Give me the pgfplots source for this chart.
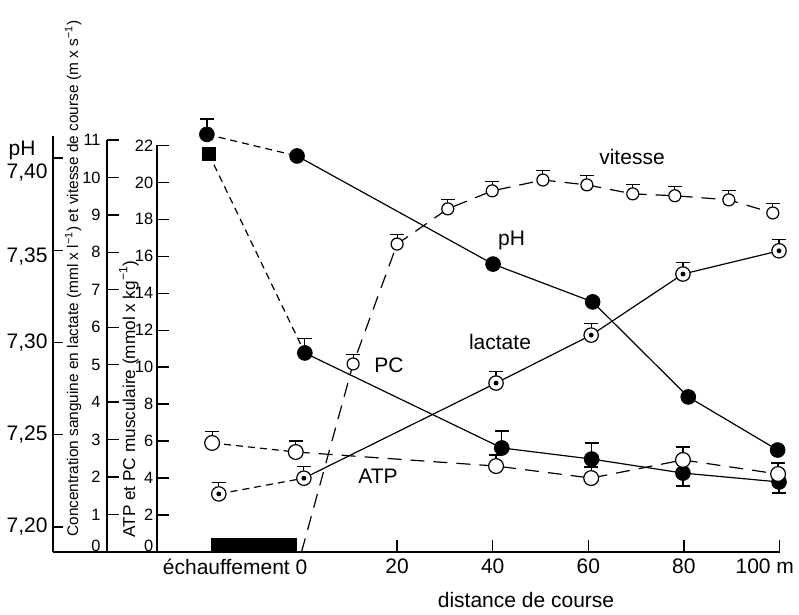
\documentclass[border=0pt]{standalone}
\usepackage{fontspec}
\setmainfont{Liberation Sans}
\usepackage{pgfplots}
\pgfplotsset{compat=1.18}

\pgfplotsset{
  common/.style={
    clip=false, x=2.39pt, xmax=100, ymin=0,
    axis line style={line width=0.7pt, black},
    major tick style={line width=0.7pt, black},
    tick align=inside,
    axis x line*=bottom, axis y line*=left,
    /pgf/number format/assume math mode=true,
  },
  errs/.style={draw=none, mark=none, forget plot,
    error bars/.cd, y dir=both, y explicit,
    error bar style={draw=black, solid, line width=0.6pt},
    error mark options={rotate=90, mark size=3.5pt, line width=0.6pt, black, solid}},
  sd/.style={black, line width=0.6pt, dash pattern=on 3.5pt off 2.5pt, mark=none},
  ld/.style={black, line width=0.6pt, dash pattern=on 7pt off 4.5pt, mark=none},
  sl/.style={black, line width=0.6pt, mark=none},
  fullc/.style={only marks, mark=*, mark size=3.7pt, mark options={solid, fill=black, draw=black}},
  openc/.style={only marks, mark=*, mark size=#1, mark options={solid, fill=white, draw=black, line width=0.6pt}},
}
\tikzset{lab/.style={font=\fontsize{10.5}{12}\selectfont, inner sep=0pt}}

\begin{document}
\begin{tikzpicture}
\path[use as bounding box] (0pt,-31.5pt) rectangle (399.5pt,276pt);

% pH
\begin{axis}[common, at={(26.5pt,0pt)}, anchor=south west,
  xmin=-52, y=922.5pt, ymin=7.18645, ymax=7.4119,
  xtick=\empty, ytick={7.2,7.25,7.3,7.35,7.4},
  yticklabels={{7,20},{7,25},{7,30},{\raisebox{-6.25pt}[0pt][0pt]{7,35}},{\raisebox{-10.25pt}[0pt][0pt]{7,40}}},
  major tick length=5pt,
  yticklabel style={font=\fontsize{10.5}{12}\selectfont, inner sep=2.5pt}]
\addplot[errs] coordinates {(-19.8,7.4128) += (0,0.0083)};
\addplot[sd] coordinates {(-19.8,7.4128) (-0.94,7.4011)};
\addplot[sl] coordinates {(-0.94,7.4011) (40.06,7.3425) (60.9,7.3220) (80.9,7.2705) (99.6,7.2417)};
\addplot[fullc] coordinates {(-19.8,7.4128) (-0.94,7.4011) (40.06,7.3425) (60.9,7.3220) (80.9,7.2705) (99.6,7.2417)};
\end{axis}

% lactate et vitesse
\begin{axis}[common, at={(53.5pt,0pt)}, anchor=south west,
  axis x line*=none,
  xmin=-40.69, y=18.73pt, ymin=0, ymax=11, ytick={0,1,...,11}, xtick=\empty,
  yticklabels={\raisebox{0pt}[0pt][0pt]{0},1,2,3,4,5,6,7,8,9,10,11},
  major tick length=5.8pt,
  yticklabel style={font=\fontsize{8.2}{10}\selectfont, inner sep=3pt}]
\addplot[fill=black, draw=none, forget plot] coordinates {(-19,0) (-1,0) (-1,0.37) (-19,0.37)} -- cycle;
% vitesse
\addplot[errs] coordinates {
  (10.8,5.02) += (0,0.25) (20,8.22) += (0,0.25) (30.6,9.16) += (0,0.25)
  (39.9,9.64) += (0,0.25) (50.5,9.93) += (0,0.25) (59.7,9.80) += (0,0.25)
  (69.3,9.56) += (0,0.25) (78.1,9.51) += (0,0.25) (89.4,9.40) += (0,0.25)
  (98.6,9.05) += (0,0.25)};
\addplot[ld] coordinates {(0,0) (10.8,5.02) (20,8.22) (30.6,9.16) (39.9,9.64) (50.5,9.93) (59.7,9.80) (69.3,9.56) (78.1,9.51) (89.4,9.40) (98.6,9.05)};
\addplot[openc=3pt] coordinates {(10.8,5.02) (20,8.22) (30.6,9.16) (39.9,9.64) (50.5,9.93) (59.7,9.80) (69.3,9.56) (78.1,9.51) (89.4,9.40) (98.6,9.05)};
% lactate
\addplot[errs] coordinates {
  (-17.3,1.55) += (0,0.31) (0.5,1.97) += (0,0.31) (40.7,4.51) += (0,0.30)
  (60.6,5.79) += (0,0.31) (79.8,7.42) += (0,0.30) (99.9,8.04) += (0,0.31)};
\addplot[sd] coordinates {(-17.3,1.55) (0.5,1.97)};
\addplot[sl] coordinates {(0.5,1.97) (40.7,4.51) (60.6,5.79) (79.8,7.42) (99.9,8.04)};
\addplot[openc=3.6pt] coordinates {(-17.3,1.55) (0.5,1.97) (40.7,4.51) (60.6,5.79) (79.8,7.42) (99.9,8.04)};
\addplot[only marks, mark=*, mark size=1pt, mark options={fill=black, draw=black}] coordinates {(-17.3,1.55) (0.5,1.97) (40.7,4.51) (60.6,5.79) (79.8,7.42) (99.9,8.04)};
\end{axis}

% ATP et PC
\begin{axis}[common, at={(78.5pt,0pt)}, anchor=south west,
  xmin=-30.23, y=9.24pt, ymin=0, ymax=22, ytick={0,2,...,22},
  yticklabels={\raisebox{0pt}[0pt][0pt]{0},2,4,6,8,10,12,14,16,18,20,22},
  xtick={20,40,60,80,100}, xticklabels={20,40,60,80,\makebox[14.5pt][r]{100 m}},
  major tick length=6pt,
  xticklabel style={font=\fontsize{10.5}{12}\selectfont},
  yticklabel style={font=\fontsize{8.2}{10}\selectfont, inner sep=1.7pt}]
\node[anchor=north, inner sep=0.3333em, font=\fontsize{10.5}{12}\selectfont] at (axis cs:0,0) {\makebox[0pt][r]{échauffement\ }0};
% PC
\addplot[errs] coordinates {
  (0.7,10.77) += (0,0.8) (41.9,5.63) += (0,0.92) (60.7,5.03) += (0,0.87)
  (79.8,4.27) -= (0,0.7) (99.9,3.79) -= (0,0.6)};
\addplot[sd] coordinates {(-19.4,21.54) (0.7,10.77)};
\addplot[sl] coordinates {(0.7,10.77) (41.9,5.63) (60.7,5.03) (79.8,4.27) (99.9,3.79)};
\addplot[only marks, mark=square*, mark size=3.1pt, mark options={fill=black, draw=black}] coordinates {(-19.4,21.54)};
\addplot[fullc] coordinates {(0.7,10.77) (41.9,5.63) (60.7,5.03) (79.8,4.27) (99.9,3.79)};
% ATP
\addplot[errs] coordinates {
  (-18.7,5.90) += (0,0.6) (-1.2,5.41) += (0,0.6) (40.7,4.65) += (0,0.6)
  (60.6,4.00) += (0,0.6) (79.8,4.98) += (0,0.7) (99.7,4.22) += (0,0.6)};
\addplot[sd] coordinates {(-18.7,5.90) (-1.2,5.41)};
\addplot[ld] coordinates {(-1.2,5.41) (40.7,4.65) (60.6,4.00) (79.8,4.98) (99.7,4.22)};
\addplot[openc=3.7pt] coordinates {(-18.7,5.90) (-1.2,5.41) (40.7,4.65) (60.6,4.00) (79.8,4.98) (99.7,4.22)};
\end{axis}

% textes
\node[lab] at (11pt,201pt) {pH};
\node[lab] at (316pt,197.5pt) {vitesse};
\node[lab] at (255.75pt,156pt) {pH};
\node[lab] at (250pt,105pt) {lactate};
\node[lab] at (194.5pt,93.25pt) {PC};
\node[lab] at (189pt,38pt) {ATP};
\node[lab] at (263pt,-24pt) {distance de course};
\node[rotate=90, anchor=base west, inner sep=0pt, font=\fontsize{7.7}{10}\selectfont] at (39pt,7.5pt)
  {Concentration sanguine en lactate (mml x l\textsuperscript{−1}) et vitesse de course (m x s\textsuperscript{−1})};
\node[rotate=90, anchor=base west, inner sep=0pt, font=\fontsize{8.6}{10}\selectfont] at (67.5pt,7pt)
  {ATP et PC musculaire (mmol x kg\textsuperscript{−1})};
\end{tikzpicture}
\end{document}
